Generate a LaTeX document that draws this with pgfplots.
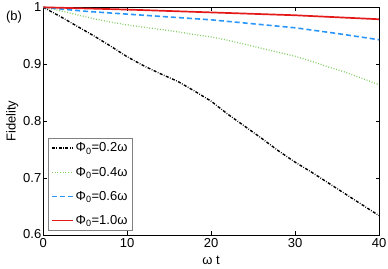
\documentclass[border=0pt]{standalone}
\usepackage{pgfplots}
\pgfplotsset{compat=1.18}
\usepackage{fontspec}
\setmainfont{Liberation Sans}
\definecolor{cgreen}{RGB}{130,205,100}
\definecolor{cblue}{RGB}{40,150,250}
\definecolor{cred}{RGB}{228,25,25}
\begin{document}
\begin{tikzpicture}
\begin{axis}[
  scale only axis,
  width=335.7pt, height=227.7pt,
  xmin=0, xmax=40, ymin=0.6, ymax=1,
  xtick={0,10,20,30,40},
  ytick={0.6,0.7,0.8,0.9,1},
  yticklabels={0.6,0.7,0.8,0.9,1},
  tick align=inside,
  major tick length=3.5pt,
  tick style={black, line width=0.4pt},
  axis line style={line width=0.5pt},
  /pgf/number format/assume math mode=true,
  tick label style={font=\fontsize{13}{15}\selectfont},
  xticklabel style={yshift=0.5pt},
  yticklabel style={xshift=1.5pt, yshift=0.5pt},
  xlabel={ω t},
  ylabel={Fidelity},
  label style={font=\fontsize{13}{15}\selectfont},
  xlabel style={yshift=-2pt},
  ylabel style={yshift=-2pt},
  legend style={draw=gray, fill=white, line width=0.6pt,
    at={(rel axis cs:0.013,0.0176)}, anchor=south west,
    font=\fontsize{13}{15}\selectfont,
    row sep=9.5pt, inner xsep=3pt, inner ysep=3pt},
  legend cell align=left,
  legend image code/.code={\draw[#1] (0pt,0pt) -- (21pt,0pt);},
  clip=false,
]
\addplot[black, line width=1.4pt, dash pattern=on 3pt off 1.5pt on 0.7pt off 1.5pt] coordinates {
(0,1.000)(2,0.984)(4,0.967)(6,0.950)(8,0.932)(10,0.913)(12,0.897)(14,0.883)(16,0.870)(18,0.853)(20,0.835)(22,0.812)(24,0.791)(26,0.770)(28,0.748)(30,0.728)(32,0.710)(34,0.691)(36,0.672)(38,0.653)(40,0.634)};
\addlegendentry{Φ\textsubscript{0}=0.2ω}
\addplot[cgreen, line width=1.3pt, dash pattern=on 0.9pt off 1.8pt] coordinates {
(0,1.000)(2,0.994)(4,0.987)(6,0.980)(8,0.974)(10,0.969)(12,0.965)(14,0.961)(16,0.957)(18,0.952)(20,0.948)(22,0.942)(24,0.935)(26,0.928)(28,0.921)(30,0.914)(32,0.905)(34,0.895)(36,0.886)(38,0.875)(40,0.864)};
\addlegendentry{Φ\textsubscript{0}=0.4ω}
\addplot[cblue, line width=1.6pt, dash pattern=on 5pt off 3pt] coordinates {
(0,1.000)(5,0.993)(10,0.988)(15,0.983)(20,0.978)(25,0.971)(30,0.964)(35,0.954)(40,0.943)};
\addlegendentry{Φ\textsubscript{0}=0.6ω}
\addplot[cred, line width=1.7pt] coordinates {
(0,1.000)(10,0.996)(20,0.991)(30,0.986)(40,0.979)};
\addlegendentry{Φ\textsubscript{0}=1.0ω}
\node[font=\fontsize{13}{15}\selectfont] at ([xshift=-29.3pt,yshift=-10.2pt]rel axis cs:0,1) {(b)};
\end{axis}
\pgfresetboundingbox
\path ([shift={(-43.3pt,-34pt)}]current axis.south west) rectangle ([shift={(9pt,7.3pt)}]current axis.north east);
\end{tikzpicture}
\end{document}
